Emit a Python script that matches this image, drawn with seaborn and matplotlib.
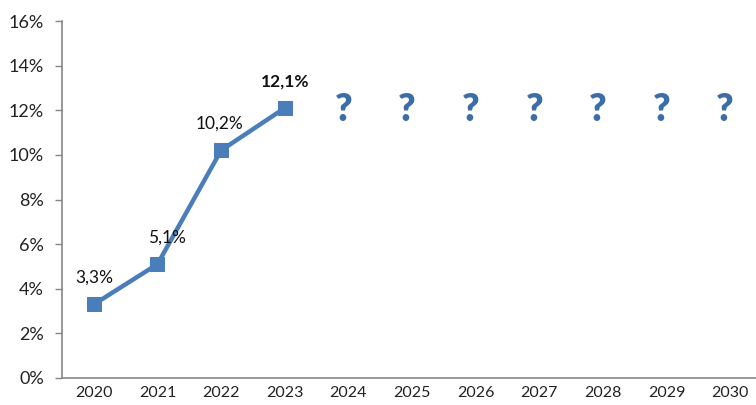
import matplotlib
matplotlib.use("Agg")
import matplotlib.pyplot as plt
import seaborn as sns
import pandas as pd
import numpy as np
from matplotlib.ticker import FixedLocator

# ---- data ----
years_all = [2020, 2021, 2022, 2023, 2024, 2025, 2026, 2027, 2028, 2029, 2030]
years_known = [2020, 2021, 2022, 2023]
values = [3.3, 5.1, 10.2, 12.1]
value_labels = ["3,3%", "5,1%", "10,2%", "12,1%"]
unknown_years = [2024, 2025, 2026, 2027, 2028, 2029, 2030]
y_ticks = [0, 2, 4, 6, 8, 10, 12, 14, 16]
y_tick_labels = ["0%", "2%", "4%", "6%", "8%", "10%", "12%", "14%", "16%"]

df = pd.DataFrame({"year": years_known, "value": values})

sns.set_style("white")
plt.rcParams["font.family"] = ["Lato", "DejaVu Sans"]

BLUE = "#4a7ebb"
AXIS = "#868686"

fig = plt.figure(figsize=(7.56, 4.05), dpi=100)
ax = fig.add_axes([62 / 756, (405 - 378) / 405, 700 / 756, (378 - 21) / 405])

sns.lineplot(data=df, x="year", y="value", ax=ax, color=BLUE, linewidth=3.2,
             marker="s", markersize=10, markeredgecolor=BLUE, markerfacecolor=BLUE)

label_dx = [0, 7, -1, 0]
for x, v, lab, dx in zip(years_known, values, value_labels, label_dx):
    ax.annotate(lab, (x, v), xytext=(dx, 19), textcoords="offset points",
                ha="center", va="center", fontsize=12.5, color="#111111",
                fontweight="bold" if x == years_known[-1] else "normal")

for x in unknown_years:
    ax.text(x - 0.08, values[-1] - 0.1, "?", ha="center", va="center", fontsize=27,
            fontweight="heavy", color="#3b6ea8")

ax.set_xlim(2019.5, 2030.5)
ax.set_ylim(0, 16)
ax.set_yticks(y_ticks)
ax.set_yticklabels(y_tick_labels)
ax.xaxis.set_major_locator(FixedLocator(years_all))
ax.set_xticklabels([str(y) for y in years_all])
ax.xaxis.set_minor_locator(FixedLocator([y - 0.5 for y in years_all] + [2030.5]))
ax.tick_params(axis="x", which="major", length=0, pad=6, labelsize=11.5, labelcolor="#222222")
ax.tick_params(axis="x", which="minor", length=5, width=1, color=AXIS, direction="out")
ax.tick_params(axis="y", length=5, width=1, color=AXIS, pad=8, labelsize=13, labelcolor="#222222", left=True)
ax.set_xlabel("")
ax.set_ylabel("")
for s in ["top", "right"]:
    ax.spines[s].set_visible(False)
for s in ["left", "bottom"]:
    ax.spines[s].set_color(AXIS)
    ax.spines[s].set_linewidth(1.2)
ax.grid(False)
if ax.get_legend():
    ax.get_legend().remove()

fig.savefig("out.png", dpi=100)
